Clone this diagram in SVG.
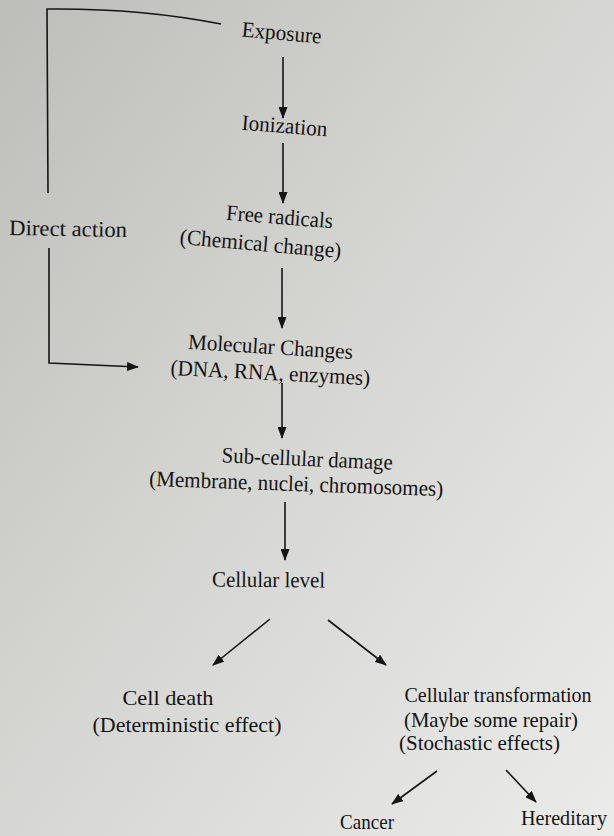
<svg xmlns="http://www.w3.org/2000/svg" width="614" height="836" viewBox="0 0 614 836">
  <defs>
    <linearGradient id="paper" x1="0" y1="0" x2="1" y2="1">
      <stop offset="0" stop-color="#bdbdb9"/>
      <stop offset="0.45" stop-color="#d4d4d1"/>
      <stop offset="1" stop-color="#ebebea"/>
    </linearGradient>
    <marker id="arrow" viewBox="0 0 12 9" markerWidth="12" markerHeight="9" refX="11" refY="4.5" orient="auto" markerUnits="userSpaceOnUse">
      <path d="M0,0 L12,4.5 L0,9 z" fill="#151515"/>
    </marker>
  </defs>
  <style>
    .t { font-family: "Liberation Serif", "Times New Roman", serif; font-size: 22px; fill: #141414; text-anchor: middle; }
    .c { fill: none; stroke: #151515; stroke-width: 1.6; }
    .a { marker-end: url(#arrow); }
  </style>
  <rect x="0" y="0" width="614" height="836" fill="url(#paper)"/>

  <g id="connectors">
    <path class="c" d="M48,193 L47,9 Q140,8 221,24"/>
    <path class="c a" d="M49,248 L49,363 L138,367"/>
    <path class="c a" d="M283,57 L283,118"/>
    <path class="c a" d="M283,143 L283,203"/>
    <path class="c a" d="M282,268 L282,328"/>
    <path class="c a" d="M282,383 L282,438"/>
    <path class="c a" d="M285,502 L285,560"/>
    <path class="c a" d="M270,619 L213,665"/>
    <path class="c a" d="M328,620 L386,665"/>
    <path class="c a" d="M437,771 L392,804"/>
    <path class="c a" d="M506,770 L536,802"/>
  </g>

  <g id="exposure"><text class="t" x="281" y="40" textLength="80" lengthAdjust="spacingAndGlyphs" transform="rotate(5 281 40)">Exposure</text></g>
  <g id="ionization"><text class="t" x="284" y="133" textLength="86" lengthAdjust="spacingAndGlyphs" transform="rotate(4.5 284 133)">Ionization</text></g>
  <g id="free-radicals">
    <text class="t" x="279" y="224" textLength="107" lengthAdjust="spacingAndGlyphs" transform="rotate(4.5 279 224)">Free radicals</text>
    <text class="t" x="260" y="251" textLength="162" lengthAdjust="spacingAndGlyphs" transform="rotate(5 260 251)">(Chemical change)</text>
  </g>
  <g id="direct-action"><text class="t" x="68" y="236" textLength="118" lengthAdjust="spacingAndGlyphs" transform="rotate(1 68 236)">Direct action</text></g>
  <g id="molecular-changes">
    <text class="t" x="270" y="354" textLength="165" lengthAdjust="spacingAndGlyphs" transform="rotate(3.5 270 354)">Molecular Changes</text>
    <text class="t" x="270" y="380" textLength="200" lengthAdjust="spacingAndGlyphs" transform="rotate(3 270 380)">(DNA, RNA, enzymes)</text>
  </g>
  <g id="sub-cellular-damage">
    <text class="t" x="307" y="466" textLength="171" lengthAdjust="spacingAndGlyphs" transform="rotate(2.5 307 466)">Sub-cellular damage</text>
    <text class="t" x="296" y="491" textLength="294" lengthAdjust="spacingAndGlyphs" transform="rotate(2 296 491)">(Membrane, nuclei, chromosomes)</text>
  </g>
  <g id="cellular-level"><text class="t" x="268.5" y="587" textLength="113" lengthAdjust="spacingAndGlyphs" transform="rotate(0.5 268.5 587)">Cellular level</text></g>
  <g id="cell-death">
    <text class="t" x="168" y="705" textLength="91" lengthAdjust="spacingAndGlyphs">Cell death</text>
    <text class="t" x="187" y="732" textLength="189" lengthAdjust="spacingAndGlyphs">(Deterministic effect)</text>
  </g>
  <g id="cellular-transformation">
    <text class="t" x="498" y="702" textLength="187" lengthAdjust="spacingAndGlyphs">Cellular transformation</text>
    <text class="t" x="491" y="727" textLength="174" lengthAdjust="spacingAndGlyphs">(Maybe some repair)</text>
    <text class="t" x="479.5" y="750" textLength="161" lengthAdjust="spacingAndGlyphs">(Stochastic effects)</text>
  </g>
  <g id="cancer"><text class="t" x="367" y="829" textLength="54" lengthAdjust="spacingAndGlyphs">Cancer</text></g>
  <g id="hereditary"><text class="t" x="564" y="825" textLength="86" lengthAdjust="spacingAndGlyphs">Hereditary</text></g>
</svg>
